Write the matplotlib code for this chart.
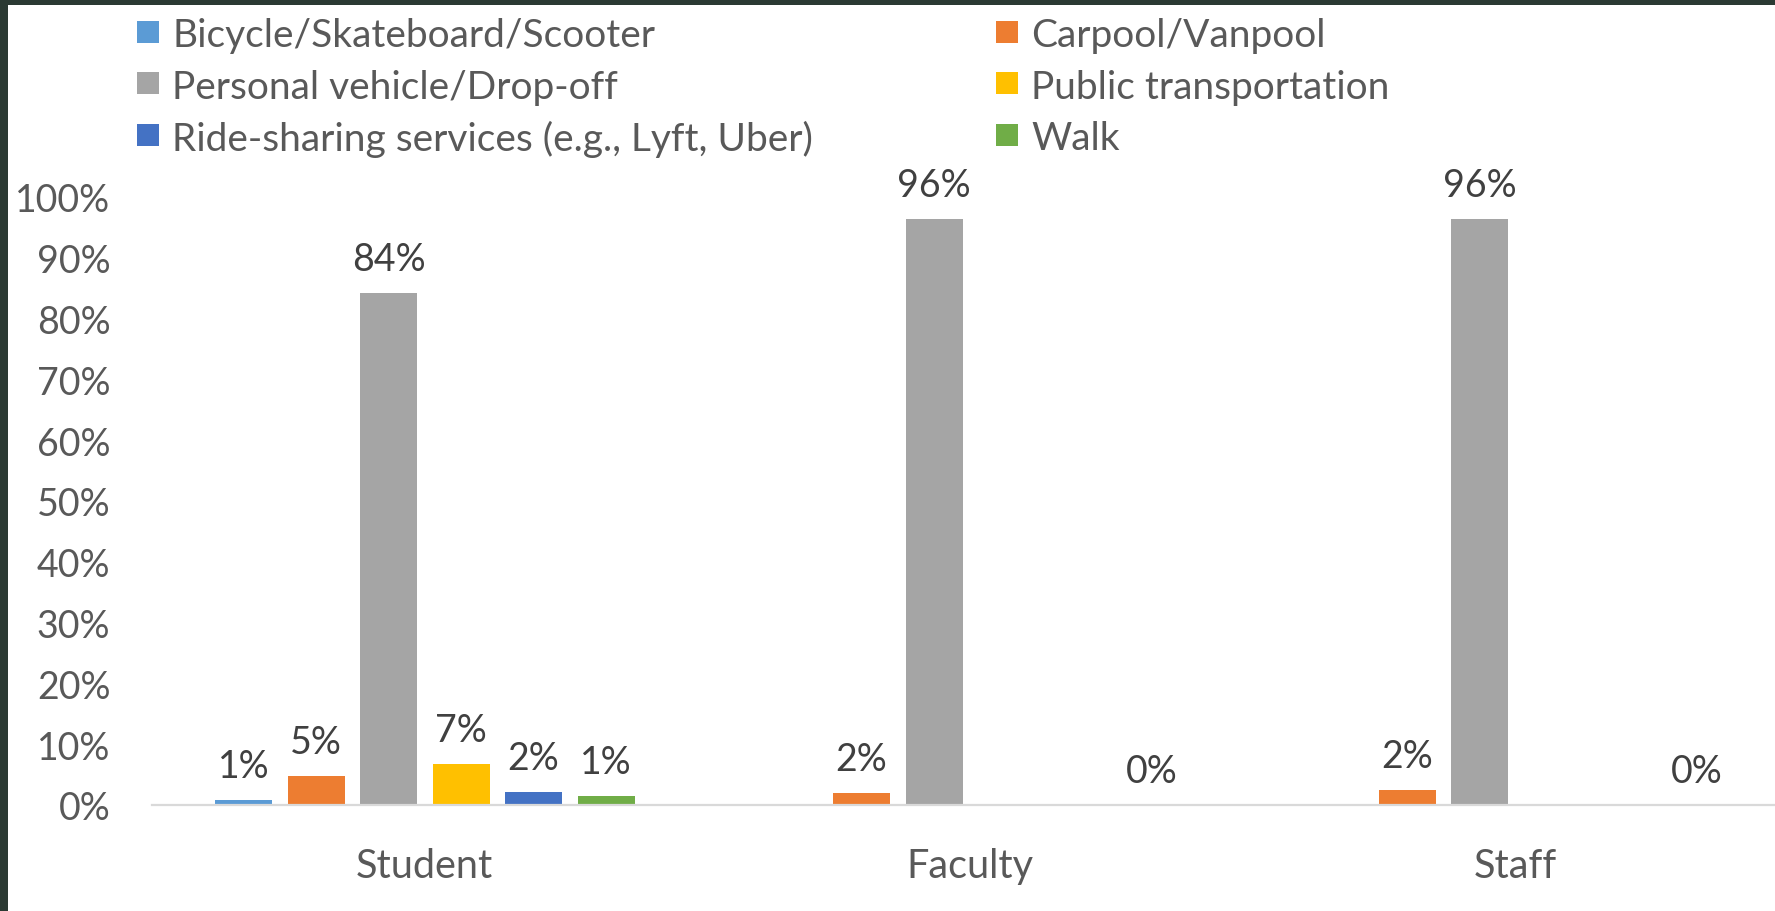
import numpy as np
import matplotlib
matplotlib.use("Agg")
import matplotlib.pyplot as plt
from matplotlib.patches import Rectangle

categories = ["Student", "Faculty", "Staff"]
series_names = [
    "Bicycle/Skateboard/Scooter",
    "Carpool/Vanpool",
    "Personal vehicle/Drop-off",
    "Public transportation",
    "Ride-sharing services (e.g., Lyft, Uber)",
    "Walk",
]
bicycle = [0.8, np.nan, np.nan]
carpool = [4.7, 1.9, 2.4]
personal = [84.2, 96.4, 96.3]
public = [6.7, np.nan, np.nan]
ridesharing = [2.1, np.nan, np.nan]
walk = [1.4, 0.0, 0.0]
yticks = [0, 10, 20, 30, 40, 50, 60, 70, 80, 90, 100]

series_values = [bicycle, carpool, personal, public, ridesharing, walk]
colors = ["#5B9BD5", "#ED7D31", "#A5A5A5", "#FFC000", "#4472C4", "#70AD47"]

W, H = 1775, 912
fig = plt.figure(figsize=(W / 100, H / 100), dpi=100)
fig.patch.set_facecolor("white")

FONT = "Lato"
TICK_C = "#595959"
LBL_C = "#404040"

ax_left, ax_right = 152, 152 + 3 * 545.5
ax_bottom, ax_top = 806, 198
ax = fig.add_axes([ax_left / W, (H - ax_bottom) / H, (ax_right - ax_left) / W, (ax_bottom - ax_top) / H])
ax.set_xlim(-0.5, 2.5)
ax.set_ylim(0, 100)

slot = 72.5 / 545.5
bw = 57 / 545.5
x = np.arange(len(categories))
n = len(series_values)
for i, (vals, col) in enumerate(zip(series_values, colors)):
    xs = x + (i - (n - 1) / 2) * slot
    v = np.array(vals, dtype=float)
    ax.bar(xs, v, width=bw, color=col, zorder=2)
    for xi, vi in zip(xs, v):
        if np.isnan(vi):
            continue
        ax.annotate(f"{vi:.0f}%", (xi, vi), xytext=(0, 24.5), textcoords="offset points",
                    ha="center", va="center", fontsize=27, color=LBL_C, family=FONT)

for s in ["top", "right", "left"]:
    ax.spines[s].set_visible(False)
ax.spines["bottom"].set_color("#D9D9D9")
ax.spines["bottom"].set_linewidth(1.6)
ax.set_yticks(yticks)
ax.set_yticklabels([f"{t}%" for t in yticks])
ax.tick_params(axis="y", length=0, pad=30, labelsize=27, labelcolor=TICK_C)
ax.set_xticks(x)
ax.set_xticklabels(categories)
ax.tick_params(axis="x", length=0, pad=30, labelsize=28.5, labelcolor=TICK_C)
for lab in ax.get_xticklabels() + ax.get_yticklabels():
    lab.set_family(FONT)

# legend (two columns)
col_marker_x = [137, 996]
row_y = [33, 84, 136]
msize = 22
order = [0, 2, 4, 1, 3, 5]
for k, si in enumerate(order):
    c = k // 3
    r = k % 3
    mx = col_marker_x[c]
    my = row_y[r]
    fig.add_artist(Rectangle((mx / W, (H - my - msize / 2) / H), msize / W, msize / H,
                             transform=fig.transFigure, facecolor=colors[si], edgecolor="none"))
    fig.text((mx + msize + 13) / W, (H - my) / H, series_names[si], ha="left", va="center_baseline",
             fontsize=28, color=TICK_C, family=FONT)

# dark frame strips
fig.add_artist(Rectangle((0, 1 - 6 / H), 1, 6 / H, transform=fig.transFigure,
                         facecolor="#2B3A33", edgecolor="none"))
fig.add_artist(Rectangle((0, 0), 8 / W, 1, transform=fig.transFigure,
                         facecolor="#2B3A33", edgecolor="none"))

fig.savefig("out.png", dpi=100, facecolor="white")
